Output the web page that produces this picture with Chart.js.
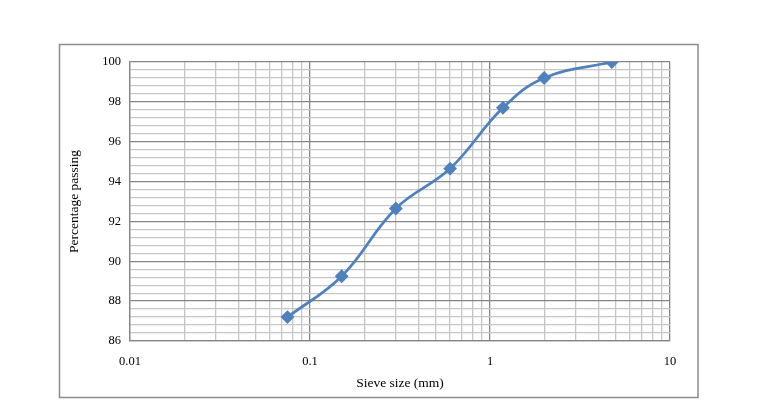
<!DOCTYPE html>
<html>
<head>
<meta charset="utf-8">
<script src="https://cdn.jsdelivr.net/npm/chart.js@4/dist/chart.umd.min.js"></script>
<style>
html,body{margin:0;padding:0;background:#fff;}
#wrap{position:relative;width:761px;height:418px;}
</style>
</head>
<body>
<div id="wrap"><canvas id="c" width="761" height="418"></canvas></div>
<script>
const sieveSizes = [0.075, 0.15, 0.3, 0.6, 1.18, 2.0, 4.75];
const percentPassing = [87.2, 89.25, 92.65, 94.65, 97.7, 99.2, 100];
const xTickLabels = [0.01, 0.1, 1, 10];
const yTickLabels = [86, 88, 90, 92, 94, 96, 98, 100];
const xTitle = 'Sieve size (mm)';
const yTitle = 'Percentage passing';

const points = sieveSizes.map((x, i) => ({x: x, y: percentPassing[i]}));

const yTicksAll = [];
for (let i = 0; i <= 35; i++) yTicksAll.push(Math.round((86 + i * 0.4) * 10) / 10);
const xTicksAll = [];
for (let e = -2; e <= 0; e++) for (let m = 1; m <= 9; m++) xTicksAll.push(parseFloat((m * Math.pow(10, e)).toPrecision(3)));
xTicksAll.push(10);

const isMajorX = v => xTickLabels.some(t => Math.abs(t - v) < 1e-9);
const isMajorY = v => yTickLabels.some(t => Math.abs(t - v) < 1e-6);

const framePlugin = {
  id: 'frame',
  afterDraw(chart) {
    const ctx = chart.ctx;
    ctx.save();
    ctx.strokeStyle = '#8c8c8c';
    ctx.lineWidth = 1.5;
    ctx.strokeRect(59.5, 44.5, 638.5, 353);
    ctx.restore();
  }
};

const serif = "'Liberation Serif', 'Times New Roman', serif";

new Chart(document.getElementById('c'), {
  type: 'line',
  data: {
    datasets: [{
      data: points,
      borderColor: '#4F81BD',
      backgroundColor: '#4F81BD',
      borderWidth: 2.75,
      pointStyle: 'rectRot',
      pointRadius: 5,
      pointHoverRadius: 5,
      tension: 0.4,
      fill: false
    }]
  },
  options: {
    responsive: false,
    animation: false,
    events: [],
    plugins: { legend: { display: false }, tooltip: { enabled: false } },
    layout: { padding: { left: 0, right: 91, top: 62, bottom: 0 } },
    scales: {
      x: {
        type: 'logarithmic',
        min: 0.01,
        max: 10,
        afterBuildTicks(scale) { scale.ticks = xTicksAll.map(v => ({value: v})); },
        afterFit(scale) { scale.height = 77; },
        ticks: {
          autoSkip: false,
          maxRotation: 0,
          padding: 13,
          color: '#000',
          font: { family: serif, size: 12.5 },
          callback: (v) => isMajorX(v) ? String(v) : ''
        },
        grid: {
          drawTicks: false,
          color: ctx => isMajorX(ctx.tick.value) ? '#868686' : '#c6c6c6',
          lineWidth: 1.3
        },
        border: { color: '#868686', width: 1.3 },
        title: {
          display: true,
          text: xTitle,
          color: '#000',
          font: { family: serif, size: 13.5 },
          padding: { top: 0, bottom: 26 }
        }
      },
      y: {
        min: 86,
        max: 100,
        afterBuildTicks(scale) { scale.ticks = yTicksAll.map(v => ({value: v})); },
        afterFit(scale) { scale.width = 130; },
        ticks: {
          autoSkip: false,
          padding: 9,
          color: '#000',
          font: { family: serif, size: 12.5 },
          callback: (v) => isMajorY(v) ? String(Math.round(v)) : ''
        },
        grid: {
          drawTicks: false,
          color: ctx => isMajorY(ctx.tick.value) ? '#868686' : '#c6c6c6',
          lineWidth: 1.3
        },
        border: { color: '#868686', width: 1.3 },
        title: {
          display: true,
          text: yTitle,
          color: '#000',
          font: { family: serif, size: 13.5 },
          padding: { top: 66, bottom: 0 }
        }
      }
    }
  },
  plugins: [framePlugin]
});
</script>
</body>
</html>
